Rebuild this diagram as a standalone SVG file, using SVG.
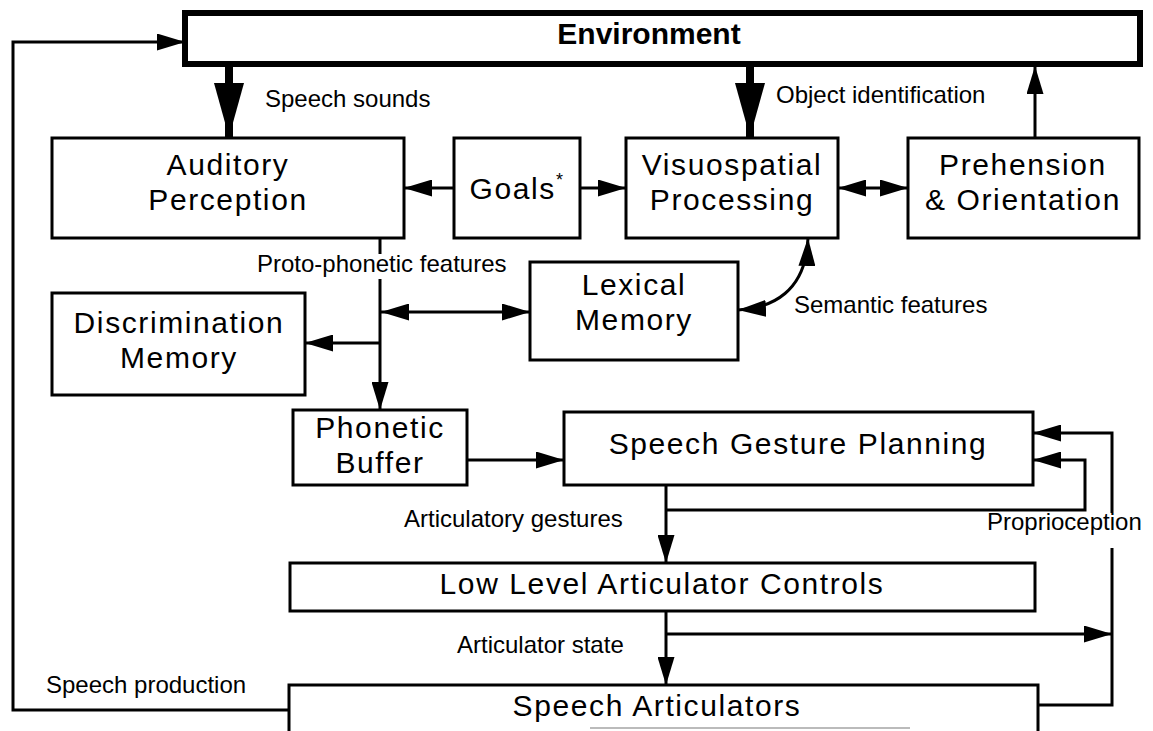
<svg xmlns="http://www.w3.org/2000/svg" width="1153" height="731" viewBox="0 0 1153 731">
<style>
  .box { fill: #fff; stroke: #000; stroke-width: 3; }
  .env { fill: #fff; stroke: #000; stroke-width: 6; }
  .n { font-family: "Liberation Sans", Arial, sans-serif; font-size: 30px; letter-spacing: 1.6px; fill: #000; text-anchor: middle; }
  .l { font-family: "Liberation Sans", Arial, sans-serif; font-size: 24px; fill: #000; }
  .e { font-family: "Liberation Sans", Arial, sans-serif; font-size: 30px; font-weight: bold; fill: #000; text-anchor: middle; }
  .c { fill: none; stroke: #000; stroke-width: 3; }
  .thick { fill: none; stroke: #000; stroke-width: 8; }
</style>
<defs>
  <marker id="arr" markerUnits="userSpaceOnUse" markerWidth="28" markerHeight="17" refX="28" refY="8.5" orient="auto-start-reverse">
    <path d="M0,0 L28,8.5 L0,17 z" fill="#000"/>
  </marker>
  <marker id="big" markerUnits="userSpaceOnUse" markerWidth="54" markerHeight="30" refX="54" refY="15" orient="auto">
    <path d="M0,0 L54,15 L0,30 z" fill="#000"/>
  </marker>
</defs>
<rect width="1153" height="731" fill="#fff"/>

<g id="connectors">
  <!-- speech production feedback to environment -->
  <path class="c" d="M289,710 H13 V42 H185" marker-end="url(#arr)"/>
  <!-- speech sounds -->
  <path class="thick" d="M229,66 V137" marker-end="url(#big)"/>
  <!-- object identification -->
  <path class="thick" d="M750,66 V137" marker-end="url(#big)"/>
  <!-- prehension to environment -->
  <path class="c" d="M1035,137 V66" marker-end="url(#arr)"/>
  <!-- goals to auditory -->
  <path class="c" d="M454,188 H404" marker-end="url(#arr)"/>
  <!-- goals to visuospatial -->
  <path class="c" d="M580,188 H626" marker-end="url(#arr)"/>
  <!-- visuospatial <-> prehension -->
  <path class="c" d="M838,188 H908" marker-start="url(#arr)" marker-end="url(#arr)"/>
  <!-- proto-phonetic features down to phonetic buffer (broken by label) -->
  <path class="c" d="M380,238 V254"/>
  <path class="c" d="M380,279 V410" marker-end="url(#arr)"/>
  <!-- junction <-> lexical memory -->
  <path class="c" d="M381,312 H530" marker-start="url(#arr)" marker-end="url(#arr)"/>
  <!-- junction to discrimination memory -->
  <path class="c" d="M380,343 H305" marker-end="url(#arr)"/>
  <!-- lexical <-> visuospatial (semantic features) -->
  <path class="c" d="M738,310 C772,308 806,292 808,238" marker-start="url(#arr)" marker-end="url(#arr)"/>
  <!-- phonetic buffer to speech gesture planning -->
  <path class="c" d="M467,460 H564" marker-end="url(#arr)"/>
  <!-- articulatory gestures -->
  <path class="c" d="M666,485 V563" marker-end="url(#arr)"/>
  <path class="c" d="M666,510 H1085 V460 H1033" marker-end="url(#arr)"/>
  <!-- articulator state -->
  <path class="c" d="M666,611 V685" marker-end="url(#arr)"/>
  <path class="c" d="M666,634 H1112" marker-end="url(#arr)"/>
  <!-- proprioception -->
  <path class="c" d="M1038,705 H1112 V548"/>
  <path class="c" d="M1112,513 V433 H1033" marker-end="url(#arr)"/>
</g>

<g id="environment">
  <rect class="env" x="185" y="13" width="955" height="51"/>
  <text class="e" x="649" y="44">Environment</text>
</g>
<g id="auditory-perception">
  <rect class="box" x="52" y="138" width="352" height="100"/>
  <text class="n" x="228" y="175">Auditory</text>
  <text class="n" x="228" y="210">Perception</text>
</g>
<g id="goals">
  <rect class="box" x="454" y="138" width="126" height="100"/>
  <text class="n" x="517" y="199">Goals<tspan font-size="18" dy="-13">*</tspan></text>
</g>
<g id="visuospatial-processing">
  <rect class="box" x="626" y="138" width="212" height="100"/>
  <text class="n" x="732" y="175">Visuospatial</text>
  <text class="n" x="732" y="210">Processing</text>
</g>
<g id="prehension-orientation">
  <rect class="box" x="908" y="138" width="231" height="100"/>
  <text class="n" x="1023" y="175">Prehension</text>
  <text class="n" x="1023" y="210">&amp; Orientation</text>
</g>
<g id="lexical-memory">
  <rect class="box" x="530" y="262" width="208" height="98"/>
  <text class="n" x="634" y="295">Lexical</text>
  <text class="n" x="634" y="330">Memory</text>
</g>
<g id="discrimination-memory">
  <rect class="box" x="52" y="293" width="253" height="102"/>
  <text class="n" x="179" y="333">Discrimination</text>
  <text class="n" x="179" y="368">Memory</text>
</g>
<g id="phonetic-buffer">
  <rect class="box" x="293" y="410" width="174" height="75"/>
  <text class="n" x="380" y="438">Phonetic</text>
  <text class="n" x="380" y="473">Buffer</text>
</g>
<g id="speech-gesture-planning">
  <rect class="box" x="564" y="412" width="469" height="73"/>
  <text class="n" x="798" y="454">Speech Gesture Planning</text>
</g>
<g id="low-level-articulator-controls">
  <rect class="box" x="290" y="563" width="745" height="48"/>
  <text class="n" x="662" y="594">Low Level Articulator Controls</text>
</g>
<g id="speech-articulators">
  <path class="c" d="M289,733 V685 H1038 V733"/>
  <path d="M590,728 H910" stroke="#bbb" stroke-width="2" fill="none"/>
  <text class="n" x="657" y="716">Speech Articulators</text>
</g>

<g id="labels">
  <text class="l" x="265" y="107">Speech sounds</text>
  <text class="l" x="776" y="103">Object identification</text>
  <text class="l" x="257" y="272">Proto-phonetic features</text>
  <text class="l" x="794" y="313">Semantic features</text>
  <text class="l" x="404" y="527">Articulatory gestures</text>
  <text class="l" x="987" y="530">Proprioception</text>
  <text class="l" x="457" y="653">Articulator state</text>
  <text class="l" x="46" y="693">Speech production</text>
</g>
</svg>
